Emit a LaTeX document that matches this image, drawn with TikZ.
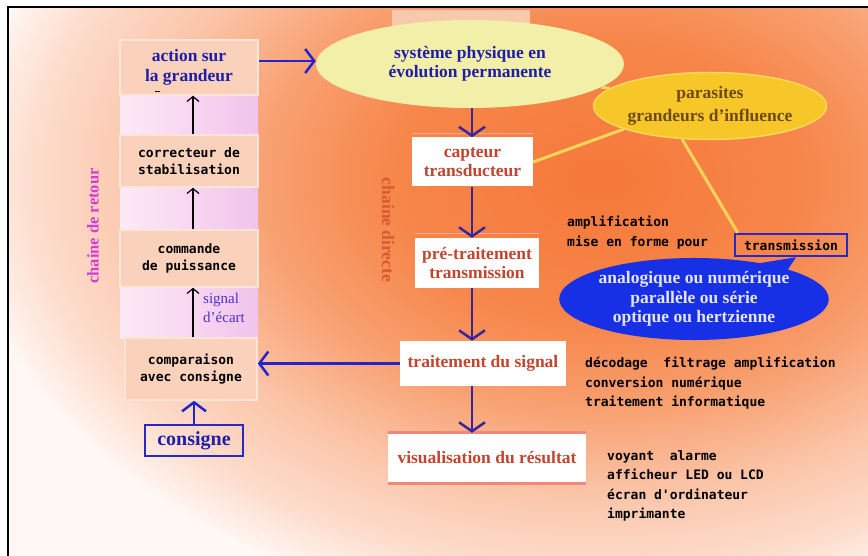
\documentclass[tikz,border=0pt]{standalone}
\usepackage{fontspec}
\setmainfont{Liberation Serif}
\newfontfamily\monofont{DejaVu Sans Mono}
\usepackage{tikz}
\usetikzlibrary{positioning,shapes.geometric,shapes.callouts,arrows.meta}

\definecolor{titleblue}{HTML}{1E1EA8}
\definecolor{brick}{HTML}{C2452F}
\definecolor{signalblue}{HTML}{4B32C8}
\definecolor{retourpink}{HTML}{D63AD8}
\definecolor{directeorange}{HTML}{D85A30}
\definecolor{boxfill}{HTML}{FAD2BB}
\definecolor{boxedge}{HTML}{FCE4D8}
\definecolor{pinkA}{HTML}{FDEAF6}
\definecolor{pinkB}{HTML}{F2C3EC}
\definecolor{sysyellow}{HTML}{F2EFA8}
\definecolor{gold}{HTML}{F7C628}
\definecolor{goldedge}{HTML}{F9D75A}
\definecolor{lineyellow}{HTML}{F5D45C}
\definecolor{calloutblue}{HTML}{1730E6}
\definecolor{paletext}{HTML}{E4E4FF}
\definecolor{olivetext}{HTML}{6E4A14}
\definecolor{arrowblue}{HTML}{2424C8}
\definecolor{downblue}{HTML}{3A2499}
\definecolor{boxblue}{HTML}{2828C8}
\definecolor{toplinecol}{HTML}{F4A9A0}
\definecolor{visulinecol}{HTML}{F08878}
\definecolor{toppatch}{HTML}{F9C9AE}
\definecolor{bgwhite}{HTML}{FFF8F5}
\definecolor{glowA}{HTML}{F5793A}
\definecolor{glowB}{HTML}{F7864A}
\definecolor{glowC}{HTML}{F8A070}
\definecolor{glowD}{HTML}{FBC6AA}
\definecolor{glowE}{HTML}{FDDCCB}
\definecolor{glowF}{HTML}{FFF2EC}

\pgfdeclareradialshading{glow}{\pgfpoint{0bp}{0bp}}{color(0bp)=(glowA); color(8bp)=(glowB); color(13bp)=(glowC); color(18bp)=(glowD); color(22bp)=(glowE); color(24.5bp)=(glowF); color(25bp)=(bgwhite); color(50bp)=(bgwhite)}

\begin{document}
\begin{tikzpicture}[
	x=1pt, y=-1pt,
	every node/.style={inner sep=0pt},
	title/.style={font=\bfseries\fontsize{17.5}{19.5}\selectfont, align=center},
	monotext/.style={font=\monofont\bfseries\fontsize{13}{19.5}\selectfont, align=left},
	boxtext/.style={font=\monofont\bfseries\fontsize{13}{17.5}\selectfont, align=center},
	leftbox/.style={draw=boxedge, line width=1.5pt, fill=boxfill, minimum width=138pt},
	chainbox/.style={fill=white, text=brick, title},
	blue arrow/.style={draw=arrowblue, line width=2.5pt, -{Straight Barb[length=9pt,width=24pt]}},
	down arrow/.style={draw=downblue, line width=2.5pt, -{Straight Barb[length=9pt,width=26pt]}},
	black arrow/.style={line width=1.2pt, -{Straight Barb[length=5pt,width=12pt]}},
	yellow line/.style={draw=lineyellow, line width=3pt},
	topline/.style={draw=toplinecol, line width=1pt},
	visuline/.style={draw=visulinecol, line width=3pt}
	]
	\useasboundingbox (0,0) rectangle (868,556);
	% background
	\fill[white] (0,0) rectangle (868,556);
	\begin{scope}
		\clip (8,7) rectangle (868,556);
		\fill[bgwhite] (8,7) rectangle (868,556);
		\shade[shading=glow] (600,180) ellipse (640 and 440);
		\fill[toppatch] (392,10) rectangle (530,26);
	\end{scope}
	\draw[line width=2.5pt] (8,556) -- (8,7) -- (868,7);
	% left column
	\shade[left color=pinkA, right color=pinkB] (120,95) rectangle (258,135);
	\shade[left color=pinkA, right color=pinkB] (120,187) rectangle (258,230);
	\shade[left color=pinkA, right color=pinkB] (120,287) rectangle (258,338);
	\node[leftbox, minimum height=55pt, text=titleblue, title] (action) at (189,67.5) {action sur\\la grandeur};
	\draw[line width=1pt] (155,92) -- (160,92);
	\node[leftbox, minimum height=52pt, boxtext] (correcteur) at (189,161) {correcteur de\\stabilisation};
	\node[leftbox, minimum height=57pt, boxtext] (commande) at (189,258.5) {commande\\de puissance};
	\node[leftbox, minimum width=132pt, minimum height=62pt, boxtext] (comparaison) at (191,369) {comparaison\\avec consigne};
	\node[draw=boxblue, line width=2.5pt, minimum width=98pt, minimum height=31pt, text=titleblue,
		font=\bfseries\fontsize{20}{22}\selectfont] (consigne) at (194,440.5) {consigne};
	\node[anchor=north west, align=left, text=signalblue, font=\fontsize{15}{19}\selectfont] (ecart) at (203,293) {signal\\d'écart};
	\node[rotate=90, text=retourpink, font=\bfseries\fontsize{16.5}{16.5}\selectfont] (retour) at (93,226) {chaine de retour};
	\draw[black arrow] ([xshift=4pt]correcteur.north) -- ([xshift=4pt]action.south);
	\draw[black arrow] ([xshift=4pt]commande.north) -- ([xshift=4pt]correcteur.south);
	\draw[black arrow] ([xshift=4pt]commande.south |- comparaison.north) -- ([xshift=4pt]commande.south);
	\draw[blue arrow] (consigne.north) -- (consigne.north |- comparaison.south);
	% direct chain
	\node[ellipse, fill=sysyellow, minimum width=308pt, minimum height=88pt, text=titleblue, title] (sys) at (470,64) {système physique en\\évolution permanente};
	\node[chainbox, minimum width=121pt, minimum height=49pt] (capteur) at (472.5,162) {capteur\\transducteur};
	\node[chainbox, minimum width=124pt, minimum height=50pt] (pretrait) at (477,263) {pré-traitement\\transmission};
	\node[chainbox, minimum width=166pt, minimum height=45pt] (traitement) at (483,363.5) {traitement du signal};
	\node[chainbox, minimum width=198pt, minimum height=50pt] (visu) at (487,458) {visualisation du résultat};
	\draw[topline] ([yshift=4pt]capteur.north west) -- ([yshift=4pt]capteur.north east);
	\draw[topline] ([yshift=4pt]pretrait.north west) -- ([yshift=4pt]pretrait.north east);
	\draw[visuline] (visu.north west) -- (visu.north east);
	\draw[visuline] (visu.south west) -- (visu.south east);
	\node[rotate=-90, text=directeorange, font=\bfseries\fontsize{17.5}{17.5}\selectfont] (directe) at (388,230) {chaine directe};
	\coordinate (col) at (472,0);
	\draw[down arrow] (sys.south -| col) -- (capteur.north -| col);
	\draw[down arrow] (capteur.south -| col) -- (pretrait.north -| col);
	\draw[down arrow] (pretrait.south -| col) -- (traitement.north -| col);
	\draw[down arrow] (traitement.south -| col) -- (visu.north -| col);
	\draw[blue arrow] ([yshift=6.5pt]action.east) -- ([yshift=6.5pt]action.east -| sys.west);
	\draw[blue arrow] (traitement.west) -- (traitement.west -| comparaison.east);
	% disturbances and transmission
	\node[ellipse, fill=gold, draw=goldedge, line width=1.5pt, minimum width=197pt, minimum height=67pt,
		text=olivetext, title] (parasites) at (710,106) {parasites\\[4pt]grandeurs d'influence};
	\node[draw=boxblue, line width=2.5pt, minimum width=112pt, minimum height=22pt, monotext] (trans) at (791,245) {transmission};
	\draw[yellow line] (sys.-10) -- (parasites.170);
	\draw[yellow line] (capteur.east) -- (parasites.195);
	\draw[yellow line] (parasites.230) -- ([xshift=4pt]trans.north west);
	\node[ellipse callout, fill=calloutblue, minimum width=265pt, minimum height=82pt,
		callout absolute pointer={([xshift=5pt]trans.south)}, text=paletext, title] (support) at (694,299)
		{analogique ou numérique\\parallèle ou série\\optique ou hertzienne};
	% comments on the right
	\node[monotext, anchor=north west] (ampli) at (567,216) {amplification\\mise en forme pour};
	\node[monotext, anchor=north west] (decodage) at (585,357) {décodage\ \ filtrage amplification\\conversion numérique\\traitement informatique};
	\node[monotext, anchor=north west] (affichage) at (607,450) {voyant\ \ alarme\\afficheur LED ou LCD\\écran d'ordinateur\\imprimante};
\end{tikzpicture}
\end{document}
